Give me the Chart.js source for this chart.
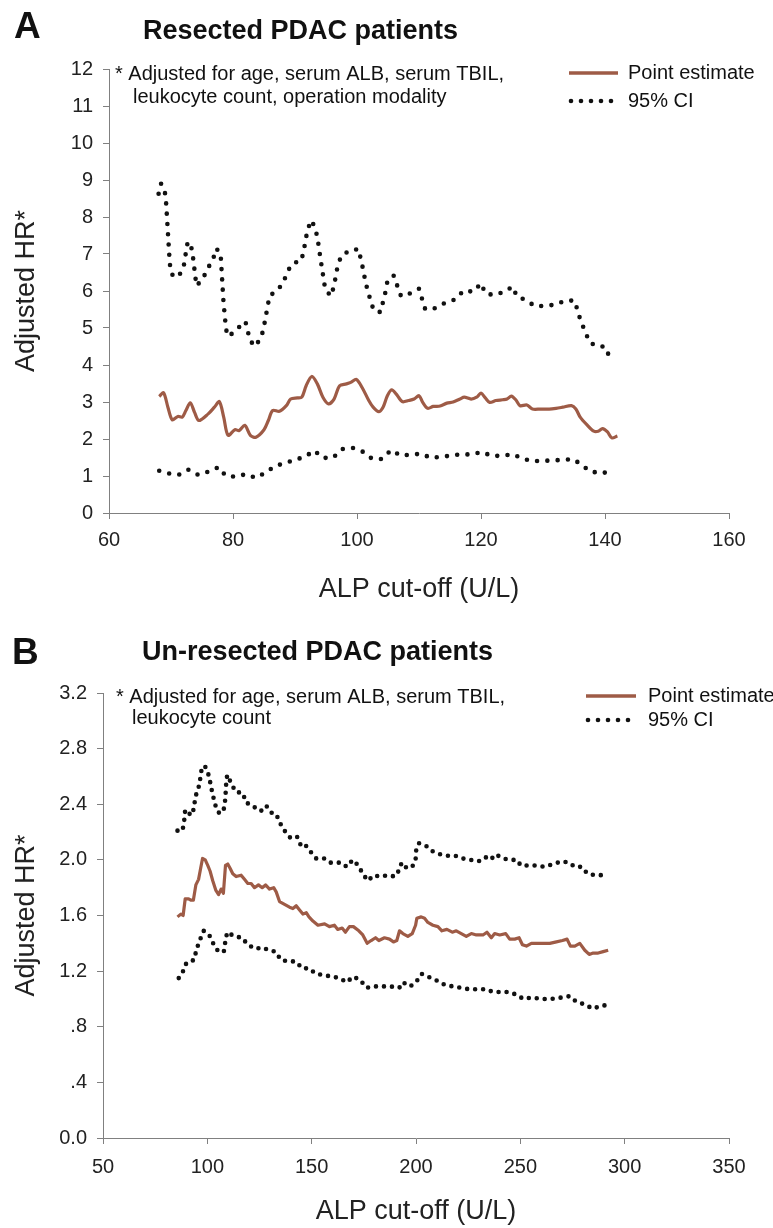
<!DOCTYPE html>
<html>
<head>
<meta charset="utf-8">
<script src="https://cdn.jsdelivr.net/npm/chart.js@4"></script>
<style>
  body { margin: 0; background: #fff; }
  #wrap { position: relative; width: 773px; height: 1228px; }
  canvas { position: absolute; left: 0; }
</style>
</head>
<body>
<div id="wrap">
  <canvas id="chartA" width="773" height="614" style="top:0"></canvas>
  <canvas id="chartB" width="773" height="614" style="top:614px"></canvas>
</div>
<script>
// ---- panel A: resected ----
const estAx = [68.1,68.8,69.5,70.2,71.1,71.8,72.4,73.1,73.8,74.5,76.0,77.0,77.8,78.5,79.2,80.3,81.0,81.9,82.8,83.7,85.0,85.7,86.4,87.5,88.6,89.3,90.4,91.1,91.8,92.7,93.6,94.5,95.4,96.3,97.2,98.3,99.0,99.9,100.8,101.9,102.6,103.5,104.2,104.9,105.6,106.3,107.3,108.3,109.2,110.0,110.6,111.4,112.3,113.4,114.5,115.5,116.6,117.3,118.4,119.3,120.0,120.7,121.4,122.4,123.5,124.2,124.9,125.6,126.3,127.4,128.3,129.6,131.0,132.1,133.2,134.6,135.3,136.0,137.1,138.2,138.9,139.6,140.4,141.1,142.0];
const estAy = [3.15,3.25,2.86,2.52,2.61,2.59,2.77,2.98,2.72,2.50,2.68,2.86,3.01,2.59,2.10,2.25,2.23,2.37,2.10,2.05,2.25,2.50,2.77,2.75,2.90,3.08,3.11,3.13,3.44,3.69,3.49,3.13,2.95,3.08,3.44,3.49,3.53,3.61,3.40,3.04,2.86,2.74,2.86,3.17,3.33,3.22,3.01,3.04,3.08,3.17,2.99,2.83,2.88,2.89,2.97,3.00,3.08,3.13,3.08,3.13,3.24,3.11,2.99,3.04,3.06,3.08,3.16,3.06,2.90,2.92,2.81,2.81,2.81,2.83,2.86,2.90,2.81,2.59,2.38,2.21,2.21,2.28,2.19,2.03,2.08];

const upAx = [68.0,68.4,69.0,69.2,69.3,69.4,69.5,69.6,69.7,69.8,70.0,70.7,71.7,72.2,72.4,72.7,73.2,73.5,73.7,73.9,74.1,75.1,75.9,76.8,77.3,78.0,78.1,78.2,78.3,78.4,78.5,78.7,78.8,79.1,79.7,80.8,82.0,82.4,82.8,83.6,84.6,85.0,85.3,85.6,85.9,87.0,88.1,88.7,89.6,91.0,91.4,91.7,92.0,92.6,93.3,93.6,93.9,94.1,94.4,94.6,94.9,95.8,96.3,96.6,96.9,97.5,99.0,100.3,100.6,101.0,101.3,101.7,102.2,102.7,103.8,104.2,104.6,104.9,105.9,106.5,107.1,108.5,110.0,110.5,111.0,112.5,114.1,115.8,117.2,118.8,120.0,120.7,122.0,123.7,125.1,125.8,127.3,128.7,130.3,132.0,133.6,135.1,135.6,136.1,136.8,137.5,138.8,140.0,140.7];
const upAy = [8.63,8.90,8.69,8.41,8.14,7.86,7.59,7.31,7.03,6.76,6.48,6.36,6.50,6.77,7.05,7.33,7.25,6.98,6.70,6.42,6.14,6.32,6.60,6.87,7.15,7.01,6.73,6.45,6.16,5.89,5.61,5.33,5.06,4.78,4.83,5.00,5.18,4.90,4.65,4.50,4.77,5.05,5.32,5.60,5.87,6.00,6.21,6.50,6.75,6.81,7.08,7.36,7.64,7.91,7.70,7.43,7.15,6.86,6.59,6.32,6.04,5.86,6.14,6.42,6.70,6.96,7.11,7.13,6.86,6.58,6.30,6.02,5.74,5.47,5.43,5.71,5.98,6.26,6.42,6.14,5.86,5.93,6.06,5.78,5.51,5.53,5.67,5.77,6.01,5.98,6.21,5.94,5.89,5.97,6.12,5.85,5.75,5.59,5.60,5.63,5.74,5.74,5.46,5.18,4.91,4.61,4.50,4.50,4.23];

const loAx = [68.1,69.6,71.2,72.8,74.4,76.1,77.7,78.8,80.4,82.1,83.7,85.3,86.8,88.4,90.1,91.7,93.1,94.5,96.1,97.7,99.3,100.9,102.4,104.0,105.5,107.1,108.6,110.4,111.9,113.5,115.2,116.8,118.4,120.1,121.8,123.5,125.1,126.7,128.3,129.9,131.6,133.3,135.0,136.4,138.0,139.6,141.3];
const loAy = [1.14,1.07,1.03,1.17,1.03,1.12,1.24,1.01,0.98,1.05,0.95,1.10,1.27,1.35,1.44,1.53,1.69,1.49,1.49,1.73,1.76,1.66,1.47,1.46,1.70,1.55,1.58,1.60,1.49,1.52,1.55,1.59,1.58,1.65,1.54,1.55,1.59,1.47,1.40,1.41,1.42,1.44,1.45,1.27,1.10,1.12,0.99];

// ---- panel B: un-resected ----
const estBx = [85.7,87.3,88.4,89.4,91.0,92.1,93.3,94.5,95.8,96.8,97.7,99.0,100.2,101.3,102.6,104.1,105.4,106.6,107.7,108.7,109.8,110.9,112.2,113.8,116.2,117.8,119.4,121.0,122.6,124.5,126.3,127.9,129.8,131.8,133.0,134.6,137.0,139.4,141.0,142.6,144.2,145.8,147.4,148.7,150.6,153.0,156.2,158.5,160.9,162.5,164.6,166.2,168.1,170.0,172.6,174.5,176.6,178.5,180.6,182.2,184.9,187.3,189.2,190.8,192.1,193.7,196.1,198.2,199.8,200.4,202.5,204.1,205.7,208.1,210.5,212.4,214.8,217.4,219.3,221.7,224.1,226.5,228.9,232.1,234.0,236.1,237.7,240.1,243.0,244.9,247.3,249.4,251.0,252.9,255.3,257.7,260.9,264.1,267.3,270.2,272.4,274.0,276.1,278.5,280.9,283.0,284.9,287.3,289.7,292.1];
const estBy = [1.59,1.61,1.60,1.72,1.72,1.71,1.71,1.82,1.86,1.94,2.01,2.00,1.96,1.92,1.85,1.78,1.75,1.79,1.76,1.96,1.97,1.94,1.90,1.88,1.89,1.86,1.83,1.83,1.80,1.82,1.80,1.82,1.79,1.80,1.77,1.70,1.68,1.66,1.65,1.67,1.64,1.61,1.62,1.59,1.56,1.53,1.54,1.52,1.53,1.50,1.51,1.48,1.52,1.52,1.49,1.46,1.40,1.42,1.44,1.42,1.44,1.43,1.41,1.42,1.49,1.47,1.45,1.47,1.53,1.58,1.59,1.58,1.55,1.53,1.52,1.49,1.50,1.48,1.49,1.47,1.45,1.47,1.46,1.46,1.48,1.44,1.47,1.46,1.47,1.43,1.43,1.44,1.39,1.38,1.40,1.40,1.40,1.40,1.41,1.42,1.43,1.38,1.38,1.40,1.35,1.32,1.33,1.33,1.34,1.35];

const upBx = [85.7,88.1,88.9,89.4,92.3,93.6,94.2,95.8,96.8,97.4,99.0,100.9,101.7,102.9,104.1,105.4,107.4,108.3,108.7,109.0,109.5,111.5,113.5,117.0,118.6,120.7,123.4,125.6,128.2,130.6,133.0,134.6,137.0,139.7,142.9,145.2,147.4,149.4,152.2,155.9,158.7,161.4,164.1,166.8,169.7,172.3,174.5,176.9,179.9,182.5,186.7,189.9,192.1,193.1,195.6,198.2,199.8,200.1,201.4,204.9,208.1,211.6,214.8,218.8,222.5,226.0,230.0,233.2,235.8,238.0,242.0,244.6,248.4,250.2,253.7,257.7,261.7,265.7,270.0,273.4,276.1,279.3,282.2,286.0,290.7];
const upBy = [2.21,2.21,2.28,2.36,2.32,2.37,2.45,2.52,2.60,2.67,2.67,2.60,2.53,2.45,2.38,2.34,2.34,2.39,2.46,2.54,2.61,2.55,2.49,2.48,2.41,2.40,2.37,2.35,2.39,2.34,2.33,2.27,2.21,2.16,2.17,2.09,2.10,2.06,2.01,2.01,1.98,1.98,1.98,1.95,2.00,1.96,1.90,1.85,1.89,1.88,1.89,1.88,1.93,1.98,1.94,1.95,2.00,2.07,2.12,2.10,2.06,2.04,2.03,2.03,2.01,2.00,1.99,2.02,2.00,2.04,2.01,2.00,2.00,1.96,1.96,1.96,1.95,1.97,1.99,1.98,1.95,1.95,1.90,1.89,1.89];

const loBx = [86.3,88.4,90.0,93.6,94.9,96.6,98.3,101.3,103.4,105.4,107.9,108.5,109.5,113.0,116.7,119.4,123.1,126.6,129.5,132.7,135.3,139.1,142.3,145.6,148.6,152.1,156.2,160.0,163.3,166.9,169.7,173.0,176.4,179.9,183.7,187.8,192.0,193.7,197.3,200.4,202.7,205.8,210.3,213.9,217.7,221.5,225.3,229.3,233.6,236.9,240.5,244.3,248.3,251.4,255.5,260.2,265.0,269.7,273.7,276.8,280.9,284.7,288.7,293.5];
const loBy = [1.15,1.20,1.26,1.28,1.36,1.43,1.49,1.45,1.38,1.34,1.34,1.40,1.48,1.45,1.44,1.39,1.36,1.37,1.35,1.34,1.28,1.27,1.27,1.22,1.22,1.18,1.17,1.16,1.15,1.12,1.16,1.14,1.08,1.09,1.09,1.09,1.08,1.12,1.09,1.13,1.18,1.16,1.13,1.10,1.09,1.08,1.07,1.07,1.07,1.05,1.05,1.05,1.03,1.00,1.01,1.00,1.00,1.01,1.02,0.98,0.96,0.93,0.95,0.96];

const yTicksB = ['0.0', '.4', '.8', '1.2', '1.6', '2.0', '2.4', '2.8', '3.2'];

const BROWN = '#9e5b46';
const AXIS = '#808080';
const FONT = '"Liberation Sans", Arial, Helvetica, sans-serif';
Chart.defaults.font.family = FONT;
Chart.defaults.color = '#222';

const pts = (xs, ys) => xs.map((x, i) => ({x: x, y: ys[i]}));

// letter, title, footnote and legend
const panelText = {
  id: 'panelText',
  afterDraw(chart, args, o) {
    const ctx = chart.ctx;
    ctx.save();
    ctx.fillStyle = '#111';
    ctx.textBaseline = 'middle';
    ctx.textAlign = 'left';
    ctx.font = 'bold 37px ' + FONT;
    ctx.fillText(o.letter, o.letterX, o.letterY);
    ctx.font = 'bold 27px ' + FONT;
    ctx.fillText(o.title, o.titleX, o.titleY);
    ctx.font = '20px ' + FONT;
    o.note.forEach((t, i) => ctx.fillText(t, o.noteX[i], o.noteY[i]));
    // legend
    const L = o.legend;
    ctx.strokeStyle = BROWN;
    ctx.lineWidth = 3.5;
    ctx.beginPath();
    ctx.moveTo(L.x0, L.y1); ctx.lineTo(L.x1, L.y1);
    ctx.stroke();
    ctx.fillStyle = '#111';
    for (let i = 0; i < 5; i++) {
      ctx.beginPath();
      ctx.arc(L.x0 + 2 + i * L.dotGap, L.y2, 2.3, 0, Math.PI * 2);
      ctx.fill();
    }
    ctx.fillText('Point estimate', L.tx, L.y1);
    ctx.fillText('95% CI', L.tx, L.y2);
    ctx.restore();
  }
};

function axisX(min, max, step, height, tickPad, titlePad) {
  return {
    type: 'linear', min: min, max: max,
    afterFit(s) { s.height = height; },
    grid: { drawOnChartArea: false, drawTicks: true, tickLength: 6, color: AXIS },
    border: { color: AXIS, width: 1 },
    ticks: { stepSize: step, padding: tickPad, font: { size: 20 }, maxRotation: 0 },
    title: { display: true, text: 'ALP cut-off (U/L)', font: { size: 27 }, padding: { top: 0, bottom: titlePad } }
  };
}
function axisY(min, max, step, width, cb) {
  return {
    min: min, max: max,
    afterFit(s) { s.width = width; },
    grid: { drawOnChartArea: false, drawTicks: true, tickLength: 6, color: AXIS },
    border: { color: AXIS, width: 1 },
    ticks: { stepSize: step, padding: 10, font: { size: 20 }, callback: cb },
    title: { display: true, text: 'Adjusted HR*', font: { size: 27 }, padding: { top: 10, bottom: 0 } }
  };
}
function sets(est, up, lo, gap, tension, estWidth) {
  const ci = { borderColor: '#111', borderWidth: 4.6, borderDash: [0, gap], borderCapStyle: 'round',
               pointRadius: 0, fill: false, tension: 0 };
  return [
    Object.assign({ label: '95% CI', data: up }, ci),
    Object.assign({ label: '95% CI', data: lo }, ci),
    { label: 'Point estimate', data: est, borderColor: BROWN, borderWidth: estWidth, pointRadius: 0,
      fill: false, tension: tension, borderJoinStyle: 'round' }
  ];
}

new Chart(document.getElementById('chartA'), {
  type: 'line',
  data: { datasets: sets(pts(estAx, estAy), pts(upAx, upAy), pts(loAx, loAy), 10.3, 0.3, 3.2) },
  options: {
    responsive: false, animation: false, events: [],
    layout: { padding: { left: 0, top: 69, right: 44, bottom: 0 } },
    plugins: {
      legend: { display: false }, tooltip: { enabled: false },
      panelText: {
        letter: 'A', letterX: 14, letterY: 28,
        title: 'Resected PDAC patients', titleX: 143, titleY: 32,
        note: ['* Adjusted for age, serum ALB, serum TBIL,', 'leukocyte count, operation modality'],
        noteX: [115, 133], noteY: [74, 97],
        legend: { x0: 569, x1: 618, y1: 73, y2: 101, tx: 628, dotGap: 10 }
      }
    },
    scales: {
      x: axisX(60, 160, 20, 101, 9, 8),
      y: axisY(0, 12, 1, 109)
    }
  },
  plugins: [panelText]
});

new Chart(document.getElementById('chartB'), {
  type: 'line',
  data: { datasets: sets(pts(estBx, estBy), pts(upBx, upBy), pts(loBx, loBy), 8, 0, 3.2) },
  options: {
    responsive: false, animation: false, events: [],
    layout: { padding: { left: 0, top: 79, right: 44, bottom: 0 } },
    plugins: {
      legend: { display: false }, tooltip: { enabled: false },
      panelText: {
        letter: 'B', letterX: 12, letterY: 40,
        title: 'Un-resected PDAC patients', titleX: 142, titleY: 39,
        note: ['* Adjusted for age, serum ALB, serum TBIL,', 'leukocyte count'],
        noteX: [116, 132], noteY: [83, 104],
        legend: { x0: 586, x1: 636, y1: 82, y2: 106, tx: 648, dotGap: 10 }
      }
    },
    scales: {
      x: axisX(50, 350, 50, 90, 11, 0),
      y: axisY(0, 3.2, 0.4, 103, (v, i) => yTicksB[i])
    }
  },
  plugins: [panelText]
});
</script>
</body>
</html>
